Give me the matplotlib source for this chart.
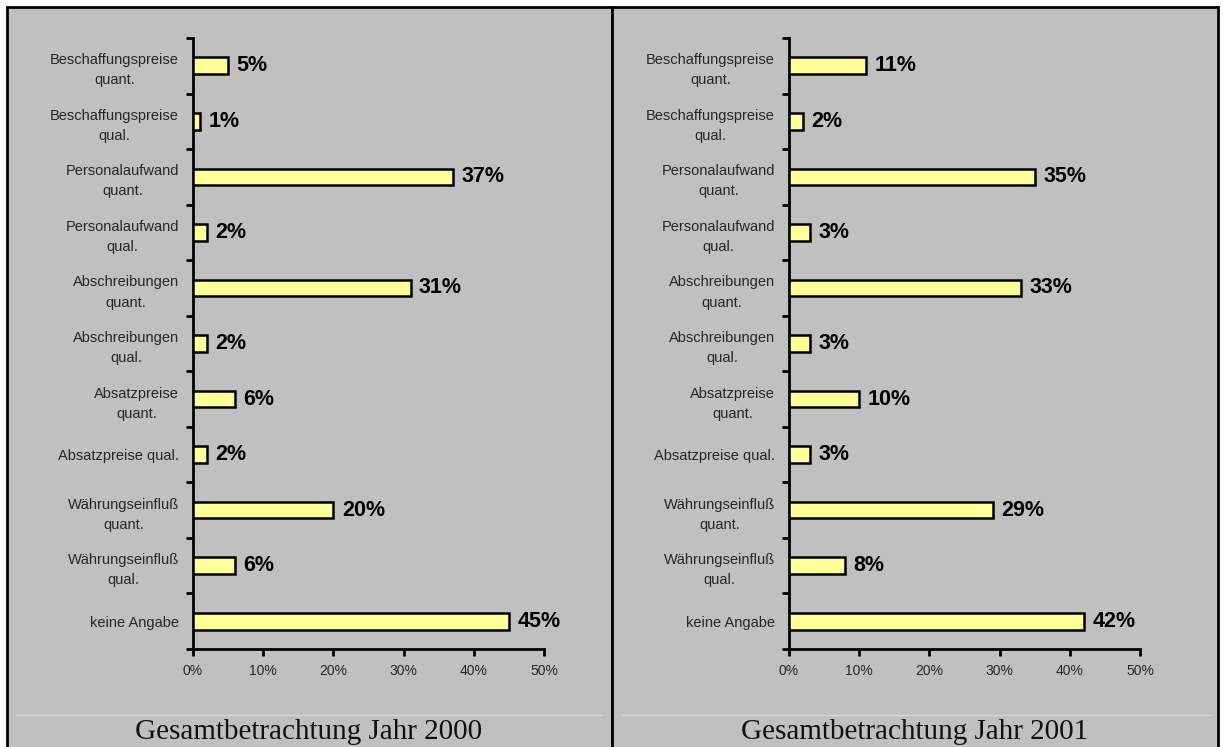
import numpy as np
import matplotlib
matplotlib.use('Agg')
import matplotlib.pyplot as plt
from matplotlib.patches import Rectangle
from matplotlib.lines import Line2D

kategorien = ['Beschaffungspreise\nquant.', 'Beschaffungspreise\nqual.',
              'Personalaufwand\nquant.', 'Personalaufwand\nqual.',
              'Abschreibungen\nquant.', 'Abschreibungen\nqual.',
              'Absatzpreise\nquant.', 'Absatzpreise qual.',
              'Währungseinfluß\nquant.', 'Währungseinfluß\nqual.',
              'keine Angabe']
werte_2000 = [5, 1, 37, 2, 31, 2, 6, 2, 20, 6, 45]
werte_2001 = [11, 2, 35, 3, 33, 3, 10, 3, 29, 8, 42]
titel = ['Gesamtbetrachtung Jahr 2000', 'Gesamtbetrachtung Jahr 2001']
x_ticks = [0, 10, 20, 30, 40, 50]

W, H = 1223, 747
grau = '#C0C0C0'
gelb = '#FFFF99'
textfarbe = '#262626'

fig = plt.figure(figsize=(W / 100, H / 100), dpi=100, facecolor='white')

def px(x, y):
    # Pixelkoordinaten (von oben) in Figurkoordinaten
    return x / W, 1 - y / H

# Hintergrundfelder mit Rahmen
for x0, x1 in [(7, 612), (612, 1218)]:
    (fx0, fy0), (fx1, fy1) = px(x0, 760), px(x1, 7)
    fig.add_artist(Rectangle((fx0, fy0), fx1 - fx0, fy1 - fy0, transform=fig.transFigure,
                             facecolor=grau, edgecolor='black', linewidth=2.0, zorder=0))

# feine Trennlinie über den Titeln
for x0, x1 in [(16, 602), (622, 1211)]:
    (a, yl), (b, _) = px(x0, 715), px(x1, 715)
    fig.add_artist(Line2D([a, b], [yl, yl], transform=fig.transFigure,
                          color='#D6D6D6', linewidth=1, zorder=1))

def plot_panel(links, werte, ueberschrift, mitte):
    ax = fig.add_axes([links / W, (H - 649) / H, 351 / W, 611 / H])
    ax.set_facecolor('none')
    y = np.arange(len(kategorien))
    ax.barh(y, werte, height=0.3, color=gelb, edgecolor='black', linewidth=1.8, zorder=3)
    for yi, v in zip(y, werte):
        ax.text(v + 1.2, yi, f'{v}%', va='center', ha='left', fontsize=15.5,
                fontweight='bold', family='Liberation Sans', color='black')
    ax.set_xlim(0, 50)
    ax.set_ylim(len(kategorien) - 0.5, -0.5)
    ax.set_xticks(x_ticks)
    ax.set_xticklabels([f'{t}%' for t in x_ticks], fontsize=10, family='Liberation Sans',
                       color=textfarbe)
    ax.set_yticks(y)
    ax.set_yticklabels(kategorien, fontsize=10.5, family='Liberation Sans', color=textfarbe,
                       linespacing=1.55, ha='right', multialignment='center')
    ax.set_yticks(np.arange(-0.5, len(kategorien)), minor=True)
    ax.tick_params(axis='y', which='major', length=0, pad=10)
    ax.tick_params(axis='y', which='minor', length=5, width=2, direction='out')
    ax.tick_params(axis='x', length=5, width=2, direction='out', pad=6)
    for s in ['top', 'right']:
        ax.spines[s].set_visible(False)
    for s in ['left', 'bottom']:
        ax.spines[s].set_linewidth(2)
    fx, fy = px(mitte, 732)
    fig.text(fx, fy, ueberschrift, ha='center', va='center', fontsize=21,
             family='Liberation Serif', color='#111111')
    return ax

plot_panel(193, werte_2000, titel[0], 309)
plot_panel(789, werte_2001, titel[1], 915)

fig.savefig('out.png', dpi=100, facecolor='white')
